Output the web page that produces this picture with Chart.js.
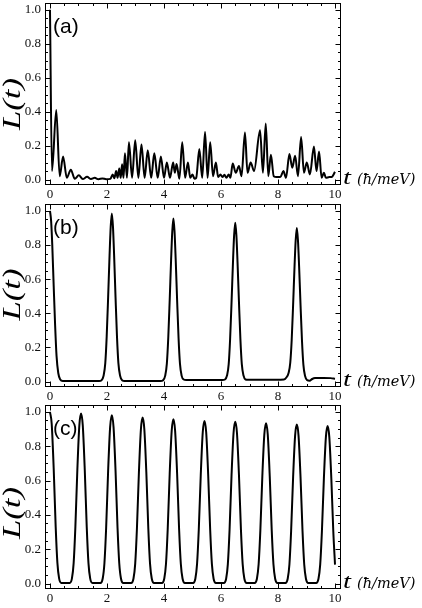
<!DOCTYPE html>
<html>
<head>
<meta charset="utf-8">
<title>L(t)</title>
<script src="https://cdn.jsdelivr.net/npm/chart.js@4.4.1/dist/chart.umd.min.js"></script>
<style>
  html, body { margin: 0; padding: 0; background: #fff; }
  #wrap { position: relative; width: 422px; height: 608px; overflow: hidden; }
  #wrap canvas { position: absolute; left: 0; }
</style>
</head>
<body>
<div id="wrap">
  <canvas id="panel-a" width="422" height="202" style="top:0px"></canvas>
  <canvas id="panel-b" width="422" height="206" style="top:198px"></canvas>
  <canvas id="panel-c" width="422" height="204" style="top:404px"></canvas>
</div>
<script>
"use strict";

// ─── Data ─────────────────────────────────────────────────────────────────────

const xTicks = [0, 2, 4, 6, 8, 10];
const yTicks = [0, 0.2, 0.4, 0.6, 0.8, 1.0];
const panelLabels = ["(a)", "(b)", "(c)"];
const yTitle = "L(t)";
const xTitle = "t";
const xUnit = "(ħ/meV)";

// (a) irregular revivals
const tA = [
  0, 0.07, 0.22, 0.34, 0.46, 0.59, 0.73, 0.87, 1.01, 1.15,
  1.30, 1.44, 1.57, 1.70, 1.84, 1.97, 2.12, 2.20, 2.26, 2.32,
  2.37, 2.43, 2.48, 2.53, 2.58, 2.63, 2.70, 2.77, 2.88, 2.99,
  3.10, 3.21, 3.32, 3.43, 3.55, 3.66, 3.78, 3.89, 4.00, 4.10,
  4.21, 4.32, 4.38, 4.44, 4.54, 4.64, 4.74, 4.84, 4.92, 5.00,
  5.07, 5.13, 5.24, 5.34, 5.44, 5.53, 5.62, 5.72, 5.82, 5.90,
  5.98, 6.05, 6.12, 6.19, 6.27, 6.33, 6.41, 6.52, 6.63, 6.72,
  6.84, 6.93, 7.04, 7.16, 7.37, 7.47, 7.57, 7.66, 7.75, 7.85,
  7.95, 8.08, 8.19, 8.28, 8.40, 8.50, 8.60, 8.70, 8.81, 8.91,
  9.01, 9.12, 9.26, 9.35, 9.44, 9.53, 9.61, 9.68, 9.80, 9.88,
  10.0,
];
const lA = [
  1.0, 0.05, 0.41, 0.02, 0.136, 0.01, 0.058, 0.005, 0.025, 0.003,
  0.016, 0.003, 0.01, 0.002, 0.007, 0.002, 0.004, 0.03, 0.008, 0.05,
  0.01, 0.065, 0.01, 0.09, 0.01, 0.155, 0.01, 0.22, 0.01, 0.232,
  0.01, 0.207, 0.01, 0.172, 0.01, 0.155, 0.01, 0.136, 0.01, 0.10,
  0.01, 0.10, 0.04, 0.092, 0.005, 0.22, 0.01, 0.10, 0.01, 0.03,
  0.005, 0.01, 0.18, 0.01, 0.28, 0.01, 0.22, 0.02, 0.10, 0.015,
  0.03, 0.015, 0.028, 0.01, 0.03, 0.01, 0.094, 0.04, 0.08, 0.02,
  0.277, 0.04, 0.10, 0.05, 0.29, 0.04, 0.33, 0.02, 0.146, 0.02,
  0.015, 0.015, 0.05, 0.01, 0.15, 0.07, 0.14, 0.02, 0.25, 0.04,
  0.10, 0.03, 0.195, 0.05, 0.165, 0.01, 0.04, 0.01, 0.015, 0.015,
  0.045,
];

// (b) four revivals
const tB = [
  0, 0.04, 0.08, 0.13, 0.18, 0.23, 0.29, 0.36, 0.45, 1.00,
  1.72, 1.81, 1.88, 1.94, 1.99, 2.04, 2.09, 2.13, 2.17, 2.21, 2.25, 2.30, 2.35, 2.40, 2.46, 2.53, 2.62, 3.30,
  3.88, 3.97, 4.04, 4.10, 4.15, 4.20, 4.25, 4.29, 4.33, 4.37, 4.41, 4.46, 4.51, 4.56, 4.62, 4.69, 4.78, 5.30,
  6.05, 6.14, 6.21, 6.27, 6.32, 6.37, 6.42, 6.46, 6.50, 6.54, 6.58, 6.63, 6.68, 6.73, 6.79, 6.86, 6.95, 7.60,
  8.21, 8.30, 8.37, 8.43, 8.48, 8.53, 8.58, 8.62, 8.66, 8.70, 8.74, 8.79, 8.84, 8.89, 8.95, 9.02, 9.11, 9.20, 9.30, 9.60, 9.85, 10.0,
];
const lB = [
  1.0, 0.94, 0.80, 0.56, 0.33, 0.15, 0.05, 0.012, 0.003, 0.003,
  0.003, 0.008, 0.034, 0.108, 0.266, 0.493, 0.739, 0.906, 0.985, 0.906, 0.739, 0.493, 0.266, 0.108, 0.034, 0.008, 0.003, 0.003,
  0.003, 0.008, 0.033, 0.105, 0.258, 0.478, 0.716, 0.879, 0.955, 0.879, 0.716, 0.478, 0.258, 0.105, 0.033, 0.012, 0.009, 0.009,
  0.009, 0.012, 0.035, 0.102, 0.251, 0.465, 0.698, 0.856, 0.930, 0.856, 0.698, 0.465, 0.251, 0.102, 0.035, 0.012, 0.010, 0.010,
  0.012, 0.025, 0.050, 0.110, 0.243, 0.450, 0.675, 0.828, 0.900, 0.828, 0.675, 0.450, 0.243, 0.099, 0.032, 0.008, 0.005, 0.015, 0.020, 0.021, 0.020, 0.016,
];

// (c) nine revivals
const tC = [
  0, 0.06, 0.13, 0.20, 0.26, 0.32, 0.40,
  0.69, 0.77, 0.83, 0.89, 0.96, 1.03, 1.09, 1.15, 1.22, 1.29, 1.35, 1.41, 1.49,
  1.77, 1.85, 1.91, 1.97, 2.04, 2.11, 2.17, 2.23, 2.30, 2.37, 2.43, 2.49, 2.57,
  2.85, 2.93, 2.99, 3.05, 3.12, 3.19, 3.25, 3.31, 3.38, 3.45, 3.51, 3.57, 3.65,
  3.93, 4.01, 4.07, 4.13, 4.20, 4.27, 4.33, 4.39, 4.46, 4.53, 4.59, 4.65, 4.73,
  5.02, 5.10, 5.16, 5.22, 5.29, 5.36, 5.42, 5.48, 5.55, 5.62, 5.68, 5.74, 5.82,
  6.10, 6.18, 6.24, 6.30, 6.37, 6.44, 6.50, 6.56, 6.63, 6.70, 6.76, 6.82, 6.90,
  7.18, 7.26, 7.32, 7.38, 7.45, 7.52, 7.58, 7.64, 7.71, 7.78, 7.84, 7.90, 7.98,
  8.26, 8.34, 8.40, 8.46, 8.53, 8.60, 8.66, 8.72, 8.79, 8.86, 8.92, 8.98, 9.06,
  9.34, 9.42, 9.48, 9.54, 9.61, 9.68, 9.74, 9.80, 9.87, 9.94, 10.0,
];
const lC = [
  1.0, 0.93, 0.67, 0.33, 0.12, 0.03, 0.003,
  0.003, 0.03, 0.119, 0.327, 0.663, 0.921, 0.99, 0.921, 0.663, 0.327, 0.119, 0.03, 0.003,
  0.003, 0.029, 0.118, 0.323, 0.657, 0.911, 0.98, 0.911, 0.657, 0.323, 0.118, 0.029, 0.003,
  0.003, 0.029, 0.116, 0.319, 0.648, 0.899, 0.967, 0.899, 0.648, 0.319, 0.116, 0.029, 0.003,
  0.003, 0.029, 0.115, 0.316, 0.641, 0.89, 0.957, 0.89, 0.641, 0.316, 0.115, 0.029, 0.003,
  0.003, 0.028, 0.114, 0.313, 0.634, 0.881, 0.947, 0.881, 0.634, 0.313, 0.114, 0.028, 0.003,
  0.003, 0.028, 0.113, 0.311, 0.632, 0.877, 0.943, 0.877, 0.632, 0.311, 0.113, 0.028, 0.003,
  0.003, 0.028, 0.112, 0.308, 0.625, 0.868, 0.933, 0.868, 0.625, 0.308, 0.112, 0.028, 0.003,
  0.003, 0.028, 0.111, 0.306, 0.621, 0.862, 0.927, 0.862, 0.621, 0.306, 0.111, 0.028, 0.003,
  0.003, 0.028, 0.11, 0.303, 0.614, 0.853, 0.917, 0.853, 0.614, 0.303, 0.11,
];

// ─── Style ────────────────────────────────────────────────────────────────────

const X_MIN = -0.175, X_MAX = 10.21;
const Y_MIN = -0.032, Y_MAX = 1.04;
const X_MINOR = 0.5, Y_MINOR = 0.05;   // 3 minor ticks between majors
const tickFont = { family: "'Liberation Serif', 'DejaVu Serif', serif", size: 13 };
const TITLE_LEN = 52;                 // L(t) is set wide in the original

// Mathematica-like frame: box, inward ticks on all four sides, panel texts
const framePlugin = {
  id: "frame",
  afterDraw(chart, args, opts) {
    const { ctx, chartArea: a, scales: { x, y } } = chart;
    const L = Math.round(a.left) + 0.5, R = Math.round(a.right) - 0.5;
    const T = Math.round(a.top) + 0.5, B = Math.round(a.bottom) - 0.5;
    ctx.save();
    ctx.strokeStyle = "#000";
    ctx.lineWidth = 1;
    ctx.strokeRect(L, T, R - L, B - T);

    ctx.beginPath();
    for (let i = 0; i * X_MINOR <= 10 + 1e-9; i++) {
      const px = Math.round(x.getPixelForValue(i * X_MINOR)) + 0.5;
      const len = i % 4 === 0 ? 5 : 2.5;
      ctx.moveTo(px, B); ctx.lineTo(px, B - len);
      ctx.moveTo(px, T); ctx.lineTo(px, T + len);
    }
    for (let i = 0; i * Y_MINOR <= 1 + 1e-9; i++) {
      const py = Math.round(y.getPixelForValue(i * Y_MINOR)) + 0.5;
      const len = i % 4 === 0 ? 5 : 2.5;
      ctx.moveTo(L, py); ctx.lineTo(L + len, py);
      ctx.moveTo(R, py); ctx.lineTo(R - len, py);
    }
    ctx.stroke();

    ctx.fillStyle = "#000";
    // panel tag
    ctx.font = "21px 'Liberation Sans', Arial, sans-serif";
    ctx.textAlign = "left";
    ctx.textBaseline = "alphabetic";
    ctx.fillText(opts.label, a.left + 8, a.top + 30);

    // rotated y title
    ctx.save();
    ctx.translate(20, (a.top + a.bottom) / 2 + opts.titleShift);
    ctx.rotate(-Math.PI / 2);
    ctx.font = "italic 25px 'Liberation Serif', serif";
    ctx.scale(TITLE_LEN / ctx.measureText(yTitle).width, 1);
    ctx.textAlign = "center";
    ctx.fillText(yTitle, 0, 0);
    ctx.restore();

    // x title to the right of the frame
    ctx.save();
    ctx.translate(a.right + 2, a.bottom - 1);
    ctx.scale(1.3, 1);
    ctx.font = "italic 22px 'Liberation Serif', serif";
    ctx.fillText(xTitle, 0, 0);
    ctx.restore();
    ctx.font = "italic 14.5px 'DejaVu Serif', serif";
    ctx.fillText(xUnit, a.right + 16, a.bottom - 1);
    ctx.restore();
  },
};

function makePanel(id, t, l, cfg) {
  return new Chart(document.getElementById(id), {
    type: "line",
    data: {
      datasets: [{
        data: t.map((v, i) => ({ x: v, y: l[i] })),
        borderColor: "#000",
        borderWidth: 2,
        pointRadius: 0,
        cubicInterpolationMode: "monotone",
        fill: false,
      }],
    },
    options: {
      responsive: false,
      animation: false,
      events: [],
      layout: { padding: { top: cfg.padTop, right: 81, bottom: 0, left: 0 } },
      plugins: {
        legend: { display: false },
        tooltip: { enabled: false },
        frame: { label: cfg.label, titleShift: cfg.titleShift },
      },
      scales: {
        x: {
          type: "linear", min: X_MIN, max: X_MAX,
          grid: { display: false, drawTicks: false }, border: { display: false },
          ticks: { font: tickFont, color: "#111", padding: 2, maxRotation: 0, autoSkip: false },
          afterBuildTicks: (s) => { s.ticks = xTicks.map((v) => ({ value: v })); },
          afterFit: (s) => { s.height = cfg.axisH; s.paddingLeft = 0; s.paddingRight = 0; },
        },
        y: {
          type: "linear", min: Y_MIN, max: Y_MAX,
          grid: { display: false, drawTicks: false }, border: { display: false },
          ticks: { font: tickFont, color: "#111", padding: 4, callback: (v) => v.toFixed(1) },
          afterBuildTicks: (s) => { s.ticks = yTicks.map((v) => ({ value: v })); },
          afterFit: (s) => { s.width = 45; s.paddingTop = 0; s.paddingBottom = 0; },
        },
      },
    },
    plugins: [framePlugin],
  });
}

makePanel("panel-a", tA, lA, { label: panelLabels[0], padTop: 3, axisH: 17, titleShift: 10 });
makePanel("panel-b", tB, lB, { label: panelLabels[1], padTop: 6, axisH: 17, titleShift: -1 });
makePanel("panel-c", tC, lC, { label: panelLabels[2], padTop: 1, axisH: 19, titleShift: 16 });
</script>
</body>
</html>
